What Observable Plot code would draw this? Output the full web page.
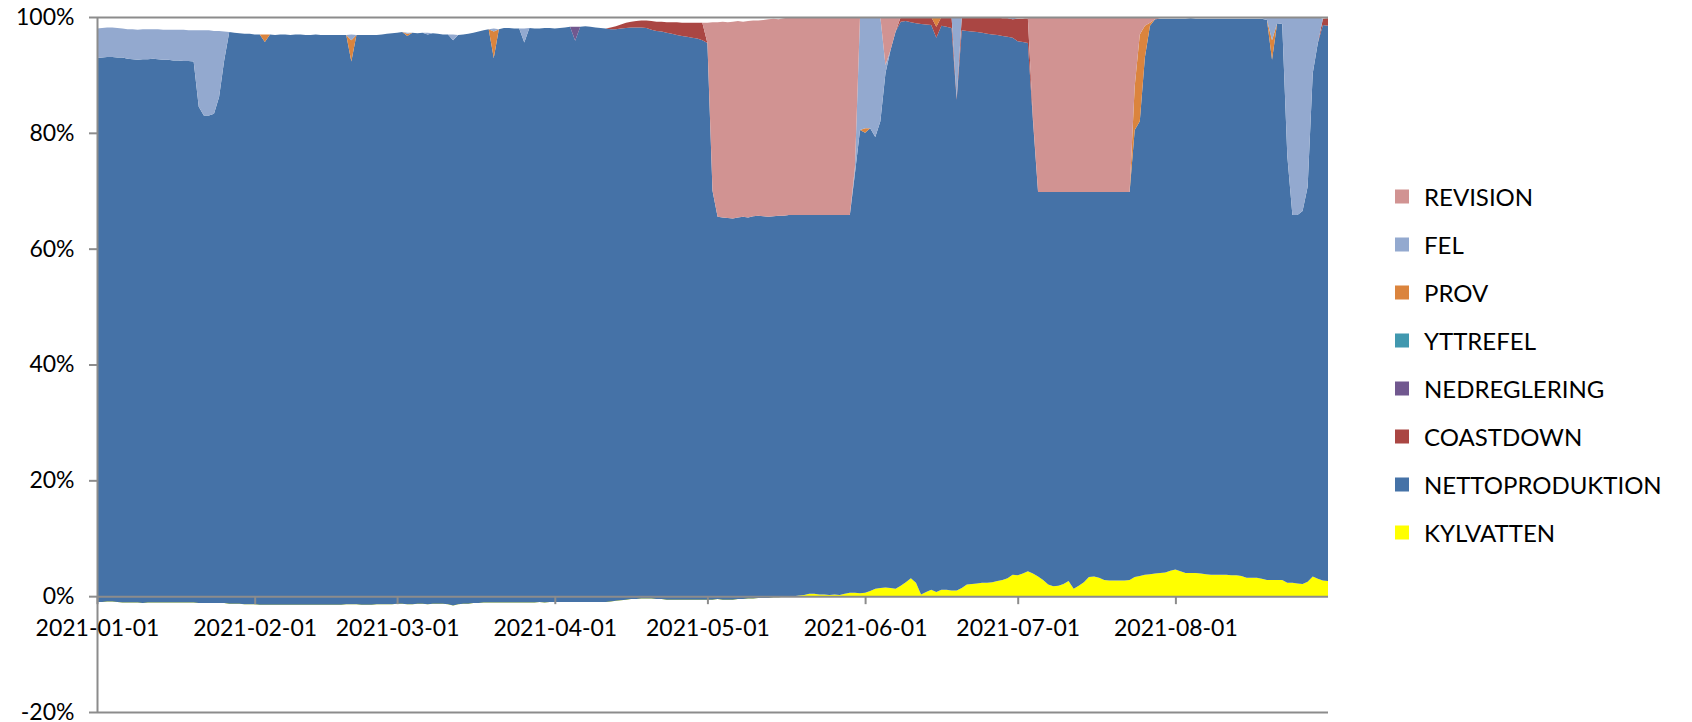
<!DOCTYPE html>
<html><head><meta charset="utf-8">
<script src="https://cdn.jsdelivr.net/npm/d3@7"></script>
<script src="https://cdn.jsdelivr.net/npm/@observablehq/plot@0.6"></script>
<style>
body{margin:0;background:#fff;}
#wrap{position:relative;width:1692px;height:722px;font-family:Lato,"Liberation Sans",sans-serif;}
#legend{position:absolute;left:0;top:0;}
.item{position:absolute;left:1395px;display:flex;align-items:center;white-space:nowrap;font-size:24px;color:#000;transform:translateY(-50%);}
.sw{width:14px;height:14px;margin-right:15px;flex:none;}
svg g[aria-label="y-axis tick"] path{stroke:#8c8c8c;stroke-width:2px;}
</style></head><body><div id="wrap"><div id="legend"></div></div>
<script>
// ---- Data (percent of capacity, one value per day from START) ----
const START = "2021-01-01";
const SERIES = ["KYLVATTEN","NETTOPRODUKTION","COASTDOWN","NEDREGLERING","YTTREFEL","PROV","FEL","REVISION"];
const COLORS = ["#FFFF00","#4572A7","#AA4643","#71588F","#4198AF","#DB843D","#93A9CF","#D19392"];
const Y_TICKS = [-20,0,20,40,60,80,100];
const X_TICKS = ["2021-01-01","2021-02-01","2021-03-01","2021-04-01","2021-05-01","2021-06-01","2021-07-01","2021-08-01"];

const KYLVATTEN = [
-1.0,-1.0,-0.9,-0.9,-1.0,-1.1,-1.1,-1.1,-1.1,-1.2,
-1.1,-1.1,-1.1,-1.1,-1.1,-1.1,-1.1,-1.1,-1.1,-1.1,
-1.2,-1.2,-1.2,-1.2,-1.2,-1.2,-1.3,-1.3,-1.3,-1.4,
-1.4,-1.4,-1.5,-1.5,-1.5,-1.5,-1.5,-1.5,-1.5,-1.5,
-1.5,-1.5,-1.5,-1.5,-1.5,-1.5,-1.5,-1.5,-1.5,-1.4,
-1.4,-1.4,-1.5,-1.5,-1.5,-1.4,-1.4,-1.4,-1.4,-1.3,
-1.3,-1.4,-1.4,-1.3,-1.3,-1.4,-1.3,-1.3,-1.3,-1.4,
-1.6,-1.4,-1.3,-1.3,-1.2,-1.2,-1.1,-1.1,-1.1,-1.1,
-1.1,-1.1,-1.1,-1.1,-1.1,-1.1,-1.1,-1.0,-1.1,-1.0,
-1.0,-1.0,-1.0,-1.0,-1.0,-1.0,-1.0,-1.0,-1.0,-1.0,
-1.0,-0.9,-0.8,-0.7,-0.6,-0.5,-0.5,-0.4,-0.4,-0.4,
-0.5,-0.5,-0.6,-0.6,-0.6,-0.6,-0.6,-0.6,-0.6,-0.6,
-0.6,-0.6,-0.5,-0.6,-0.6,-0.6,-0.5,-0.5,-0.4,-0.4,
-0.3,-0.3,-0.3,-0.2,-0.2,-0.1,-0.1,0.0,0.1,0.2,
0.4,0.4,0.3,0.3,0.2,0.3,0.2,0.4,0.6,0.6,
0.5,0.6,0.9,1.3,1.4,1.5,1.4,1.3,1.8,2.4,
3.1,2.3,0.3,0.7,1.1,0.7,1.1,1.1,1.0,1.0,
1.4,2.0,2.1,2.2,2.3,2.3,2.4,2.6,2.8,3.1,
3.7,3.6,3.9,4.3,3.9,3.4,2.8,2.0,1.7,1.8,
2.1,2.6,1.3,1.8,2.4,3.3,3.4,3.2,2.8,2.7,
2.7,2.7,2.7,2.8,3.3,3.5,3.7,3.8,3.9,4.0,
4.1,4.4,4.6,4.3,4.0,4.0,4.0,3.9,3.8,3.7,
3.7,3.7,3.7,3.6,3.6,3.5,3.2,3.2,3.2,3.0,
2.8,2.8,2.8,2.8,2.3,2.3,2.2,2.1,2.5,3.4,
3.0,2.7,2.6];

const NETTOPRODUKTION = [
93.9,94.0,94.0,94.0,94.0,94.1,93.9,93.8,93.7,93.9,
93.8,93.9,93.8,93.7,93.7,93.6,93.6,93.5,93.5,93.4,
85.7,84.2,84.2,84.5,87.4,93.7,98.7,98.6,98.5,98.5,
98.5,98.4,98.5,97.2,98.5,98.4,98.5,98.5,98.4,98.5,
98.5,98.4,98.4,98.5,98.4,98.4,98.4,98.4,98.4,98.3,
93.7,98.3,98.4,98.4,98.4,98.3,98.4,98.5,98.6,98.6,
98.7,98.1,98.7,98.5,98.6,98.4,98.5,98.4,98.3,98.4,
97.6,98.3,98.3,98.4,98.5,98.7,98.8,99.0,94.0,99.0,
99.2,99.2,99.1,99.1,96.7,99.2,99.1,99.0,99.2,99.1,
99.0,99.1,99.2,99.3,96.9,99.3,99.4,99.3,99.2,99.1,
99.0,98.8,98.7,98.7,98.7,98.7,98.7,98.6,98.5,98.2,
98.1,98.0,97.9,97.7,97.5,97.3,97.2,97.0,96.9,96.6,
96.1,70.6,66.0,66.0,65.9,65.8,65.9,66.0,65.8,66.0,
66.0,65.9,65.8,65.8,65.9,65.8,65.9,65.8,65.7,65.6,
65.4,65.4,65.5,65.5,65.6,65.5,65.6,65.4,65.2,72.4,
80.0,79.4,79.9,78.0,80.6,88.8,92.9,96.2,97.4,96.9,
96.0,96.6,98.5,98.0,97.5,95.7,97.4,97.2,97.1,84.7,
96.3,95.6,95.4,95.2,95.0,94.8,94.6,94.3,93.9,93.5,
92.7,92.2,91.8,91.2,78.1,66.4,67.0,67.8,68.1,68.0,
67.7,67.2,68.5,68.0,67.4,66.5,66.4,66.6,67.0,67.1,
67.1,67.1,67.1,67.0,77.2,78.5,89.3,94.7,95.7,95.7,
95.6,95.3,95.1,95.4,95.7,95.8,95.7,95.8,95.9,96.0,
96.0,96.0,96.0,96.1,96.1,96.2,96.5,96.5,96.5,96.7,
96.7,89.8,96.1,96.0,73.7,63.5,63.6,64.4,68.2,86.9,
92.5,95.9,95.9];

// Sparse series: runs of consecutive daily values [first date, values]; other days are 0
const COASTDOWN = [
  ["2021-04-12", [0.3,0.5,0.7,0.9,1.0,1.1,1.2,1.3,1.5,1.6,1.7,1.8,2.0,2.2,2.3,2.4,2.6,2.7,3.0]],
  ["2021-06-08", [0.8,0.7,0.9,1.1,1.2,1.3,1.4,1.9,1.5,1.7,1.9,0.3,2.2,2.3,2.4,2.5,2.6,2.8,2.9,3.0,3.1,3.2,3.2,3.9,4.0,4.2,0.5]],
  ["2021-08-30", [1.1,1.3]]
];
const NEDREGLERING = [["2021-04-05", [2.4]]];
const YTTREFEL = [];
const PROV = [
  ["2021-02-03", [1.3]],
  ["2021-02-20", [3.7]],
  ["2021-03-03", [0.4]],
  ["2021-03-20", [4.6]],
  ["2021-06-01", [0.8]],
  ["2021-06-15", [1.7]],
  ["2021-07-24", [7.5,15.0,5.5,0.5]],
  ["2021-08-20", [3.4]]
];
const FEL = [
  ["2021-01-01", [5.1,5.1,5.1,5.1,5.1,5.0,5.1,5.2,5.2,5.2,5.2,5.1,5.2,5.2,5.2,5.3,5.3,5.4,5.3,5.4,13.2,14.7,14.7,14.3,11.4,5.0]],
  ["2021-02-20", [1.0]],
  ["2021-03-03", [0.2]],
  ["2021-03-07", [0.3]],
  ["2021-03-12", [1.0]],
  ["2021-03-20", [0.5]],
  ["2021-03-26", [2.4]],
  ["2021-05-30", [1.0,19.5,19.2,19.2,20.7,18.0,1.4]],
  ["2021-06-19", [14.0]],
  ["2021-06-30", [0.3]],
  ["2021-08-19", [0.5,4.0,1.1,1.2,24.0,34.2,34.2,33.5,29.3,9.7,4.5]]
];
const REVISION = [
  ["2021-05-01", [3.5,29.1,33.6,33.8,33.8,34.0,33.9,33.7,33.9,33.8,33.7,33.9,34.1,34.1,33.9,34.1,34.1,
                  34.2,34.2,34.2,34.2,34.2,34.2,34.2,34.2,34.2,34.2,34.2,34.2,26.0]],
  ["2021-06-05", [8.3,5.7,2.5]],
  ["2021-07-03", [0.3,17.5,30.2,30.2,30.2,30.2,30.2,30.2,30.2,30.2,30.2,30.2,30.2,30.2,30.2,30.2,30.2,30.2,30.2,30.2,30.2,
                  12.0,3.0,1.5,1.0,0.4]]
];

// ---- Build table ----
const parse = d3.utcParse("%Y-%m-%d");
const fmt = d3.utcFormat("%Y-%m-%d");
const start = parse(START);
const N = KYLVATTEN.length;
const dates = d3.range(N).map(i => d3.utcDay.offset(start, i));
function expand(runs) {
  const a = new Array(N).fill(0);
  for (const [d, vals] of runs) {
    const i0 = d3.utcDay.count(start, parse(d));
    vals.forEach((v, j) => { a[i0 + j] = v; });
  }
  return a;
}
const values = {
  KYLVATTEN, NETTOPRODUKTION,
  COASTDOWN: expand(COASTDOWN), NEDREGLERING: expand(NEDREGLERING), YTTREFEL: expand(YTTREFEL),
  PROV: expand(PROV), FEL: expand(FEL), REVISION: expand(REVISION)
};
// Excel-style cumulative stacking (signed running sum, in series order)
const cum = new Array(N).fill(0);
const rows = [];
for (const s of SERIES) {
  values[s].forEach((v, i) => {
    rows.push({series: s, date: dates[i], y1: cum[i], y2: cum[i] + v});
    cum[i] += v;
  });
}
const xt = X_TICKS.map(parse);
const GRAY = "#8c8c8c";

const chart = Plot.plot({
  width: 1692, height: 722,
  marginLeft: 97, marginRight: 364, marginTop: 17, marginBottom: 10,
  style: {fontFamily: 'Lato, "Liberation Sans", sans-serif', fontSize: "23px", color: "#000", background: "transparent", overflow: "visible"},
  x: {type: "utc", domain: [start, dates[N - 1]], axis: null},
  y: {domain: [-20, 100], ticks: Y_TICKS, tickFormat: d => d + "%", tickSize: 8, tickPadding: 15, label: null},
  color: {domain: SERIES, range: COLORS},
  marks: [
    Plot.areaY(rows, {x: "date", y1: "y1", y2: "y2", fill: "series", z: "series", curve: "linear"}),
    Plot.ruleY([100, 0, -20], {stroke: GRAY, strokeWidth: 2}),
    Plot.ruleX([start], {stroke: GRAY, strokeWidth: 2}),
    Plot.ruleX(xt, {x: d => d, y1: 0, y2: 0, insetBottom: -8, stroke: GRAY, strokeWidth: 2}),
    Plot.text(xt, {x: d => d, y: 0, dy: 32, text: d => fmt(d), fontSize: 23, fill: "#000"})
  ]
});
document.getElementById("wrap").prepend(chart);

// ---- Legend (reverse series order, as in the original) ----
const LEGEND_TOP = 196, LEGEND_STEP = 48;
const legend = document.getElementById("legend");
SERIES.slice().reverse().forEach((s, k) => {
  const it = document.createElement("div");
  it.className = "item";
  it.style.top = (LEGEND_TOP + k * LEGEND_STEP) + "px";
  const sw = document.createElement("span");
  sw.className = "sw";
  sw.style.background = COLORS[SERIES.indexOf(s)];
  it.appendChild(sw);
  it.appendChild(document.createTextNode(s));
  legend.appendChild(it);
});
</script></body></html>
